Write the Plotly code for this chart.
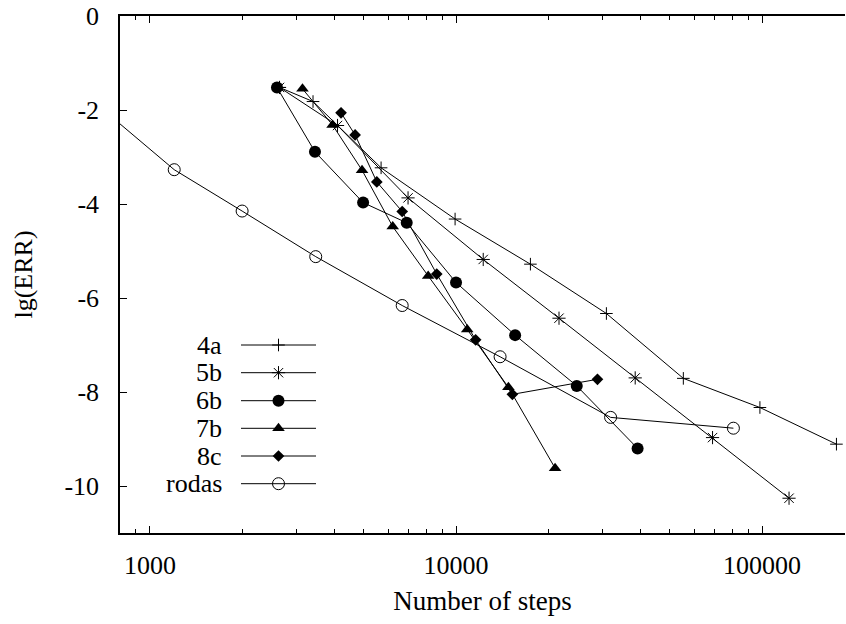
import plotly.graph_objects as go

# Number of steps vs. lg(ERR) for each method
steps_4a = [2650, 3410, 5690, 9930, 17500, 31000, 55300, 98400, 175000]
lgerr_4a = [-1.52, -1.82, -3.23, -4.32, -5.28, -6.33, -7.71, -8.33, -9.11]

steps_5b = [2650, 4100, 6970, 12270, 21700, 38500, 68900, 122500]
lgerr_5b = [-1.52, -2.33, -3.87, -5.18, -6.43, -7.70, -8.97, -10.26]

steps_6b = [2600, 3460, 4970, 6900, 10000, 15600, 24800, 39200]
lgerr_6b = [-1.52, -2.89, -3.97, -4.40, -5.67, -6.79, -7.87, -9.20]

steps_7b = [3150, 3950, 4930, 6210, 8110, 10880, 14830, 21070]
lgerr_7b = [-1.55, -2.32, -3.28, -4.48, -5.53, -6.67, -7.90, -9.62]

steps_8c = [4210, 4680, 5510, 6670, 8650, 11590, 15280, 28980]
lgerr_8c = [-2.06, -2.53, -3.53, -4.16, -5.49, -6.89, -8.05, -7.73]

steps_rodas = [720, 1200, 2000, 3480, 6670, 13930, 32000, 80600]
lgerr_rodas = [-2.05, -3.27, -4.15, -5.12, -6.16, -7.25, -8.54, -8.77]

series_names = ["4a", "5b", "6b", "7b", "8c", "rodas"]
series_x = [steps_4a, steps_5b, steps_6b, steps_7b, steps_8c, steps_rodas]
series_y = [lgerr_4a, lgerr_5b, lgerr_6b, lgerr_7b, lgerr_8c, lgerr_rodas]

marker_styles = {
    "4a": dict(symbol="cross-thin-open", size=9, color="black", line=dict(color="black", width=1)),
    "5b": dict(symbol="asterisk-open", size=11, color="black", line=dict(color="black", width=1)),
    "6b": dict(symbol="circle", size=12, color="black", line=dict(width=0)),
    "7b": dict(symbol="triangle-up", size=11, color="black", line=dict(width=0)),
    "8c": dict(symbol="diamond", size=9, color="black", line=dict(width=0)),
    "rodas": dict(symbol="circle-open", size=12, color="black", line=dict(color="black", width=1)),
}

FONT = "Liberation Serif"

fig = go.Figure()

for name, xs, ys in zip(series_names, series_x, series_y):
    fig.add_trace(go.Scatter(
        x=xs, y=ys, mode="lines+markers", name=name,
        line=dict(color="black", width=1),
        marker=marker_styles[name],
        showlegend=False,
    ))

# Hand-built key: label text on the left, line sample with symbol on the right
key_text_x = 224
key_line = (241, 316)
key_rows = [345, 372.7, 400.7, 428.3, 456, 483.7]
for name, ky in zip(series_names, key_rows):
    fig.add_trace(go.Scatter(
        x=list(key_line), y=[ky, ky], mode="lines",
        line=dict(color="black", width=1),
        xaxis="x2", yaxis="y2", showlegend=False, hoverinfo="skip",
    ))
    fig.add_trace(go.Scatter(
        x=[sum(key_line) / 2], y=[ky], mode="markers",
        marker=marker_styles[name],
        xaxis="x2", yaxis="y2", showlegend=False, hoverinfo="skip",
    ))
    fig.add_annotation(
        x=key_text_x, y=ky, xref="x2", yref="y2", text=name,
        showarrow=False, xanchor="right", yanchor="middle",
        font=dict(family=FONT, size=26, color="black"),
    )

fig.update_layout(
    width=846, height=624,
    margin=dict(l=120, r=1, t=16, b=91),
    paper_bgcolor="white", plot_bgcolor="white",
    font=dict(family=FONT, size=26, color="black"),
    xaxis=dict(
        type="log", range=[2.902, 5.271],
        tickvals=[1000, 10000, 100000], ticktext=["1000", "10000", "100000"],
        ticks="inside", ticklen=7, tickwidth=1, tickcolor="black",
        minor=dict(ticks="inside", ticklen=4, tickwidth=1, tickcolor="black", dtick="D1", showgrid=False),
        showline=True, linecolor="black", linewidth=1.5, mirror="ticks",
        showgrid=False, zeroline=False,
        tickfont=dict(family=FONT, size=26),
        ticklabelstandoff=8,
        title=dict(text="Number of steps", font=dict(family=FONT, size=27), standoff=12),
    ),
    yaxis=dict(
        range=[-11, 0], tickvals=[0, -2, -4, -6, -8, -10],
        ticktext=["0", "-2", "-4", "-6", "-8", "-10"],
        ticks="inside", ticklen=7, tickwidth=1, tickcolor="black",
        showline=True, linecolor="black", linewidth=1.5, mirror=False,
        showgrid=False, zeroline=False,
        tickfont=dict(family=FONT, size=26),
        ticklabelstandoff=14,
        title=dict(text="lg(ERR)", font=dict(family=FONT, size=26), standoff=24),
    ),
    xaxis2=dict(overlaying="x", range=[120, 845], visible=False, fixedrange=True),
    yaxis2=dict(overlaying="y", range=[533, 16], visible=False, fixedrange=True),
)

fig.write_html("out.html")
